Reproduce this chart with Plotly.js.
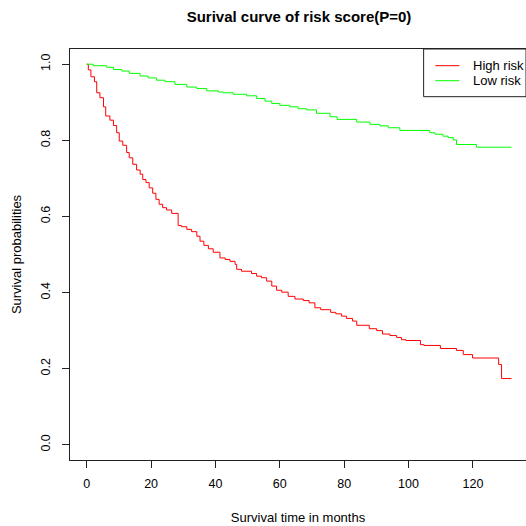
<!DOCTYPE html>
<html><head><meta charset="utf-8">
<script src="https://cdn.plot.ly/plotly-3.0.1.min.js"></script>
<style>html,body{margin:0;padding:0;background:#fff}#chart{width:526px;height:526px}</style>
</head><body><div id="chart"></div>
<script>
const seriesNames = ["High risk", "Low risk"];
const seriesColors = ["#FF0000", "#00FF00"];
const highTime = [0, 0.5, 1.3, 2.4, 3.1, 4.1, 5.2, 5.9, 7.2, 8.3, 9.3, 10.1, 11.2, 12.4, 13.2, 14.3, 15.5, 16.6, 17.4, 18.4, 19.4, 20.5, 21.5, 22.5, 23.6, 24.8, 26.4, 28.4, 29.5, 31.1, 32.6, 34.2, 35.2, 36.4, 37.8, 39.3, 41.4, 43.0, 44.5, 46.1, 46.6, 48.1, 51.2, 52.8, 54.3, 55.9, 57.5, 59.0, 60.6, 62.6, 64.7, 67.3, 69.1, 70.9, 72.7, 75.8, 77.4, 79.2, 80.7, 82.6, 83.9, 87.8, 90.1, 91.9, 94.2, 96.3, 97.8, 99.2, 103.7, 104.8, 109.9, 114.9, 117.0, 119.9, 128.0, 128.9, 132];
const highSurv = [1.0, 0.985, 0.967, 0.954, 0.925, 0.912, 0.888, 0.864, 0.853, 0.839, 0.820, 0.798, 0.787, 0.768, 0.754, 0.737, 0.722, 0.711, 0.697, 0.689, 0.675, 0.661, 0.645, 0.632, 0.623, 0.617, 0.608, 0.576, 0.573, 0.566, 0.560, 0.548, 0.535, 0.524, 0.515, 0.506, 0.491, 0.487, 0.482, 0.474, 0.461, 0.456, 0.450, 0.443, 0.439, 0.430, 0.417, 0.406, 0.401, 0.390, 0.383, 0.379, 0.373, 0.360, 0.355, 0.348, 0.344, 0.338, 0.332, 0.325, 0.314, 0.305, 0.300, 0.291, 0.287, 0.282, 0.276, 0.274, 0.263, 0.261, 0.253, 0.248, 0.237, 0.228, 0.211, 0.174, 0.174];
const lowTime = [0, 2.0, 6.2, 8.3, 10.9, 13.2, 16.6, 19.1, 21.7, 24.3, 27.4, 31.1, 34.2, 37.3, 40.9, 42.4, 45.5, 49.7, 52.8, 55.4, 57.5, 60.0, 63.1, 65.7, 68.3, 71.4, 75.6, 77.8, 83.9, 88.0, 91.1, 93.7, 97.3, 106.6, 108.2, 110.7, 112.3, 113.9, 114.9, 121.1, 132];
const lowSurv = [1.0, 0.996, 0.992, 0.986, 0.982, 0.976, 0.969, 0.964, 0.958, 0.954, 0.947, 0.940, 0.936, 0.930, 0.927, 0.925, 0.921, 0.917, 0.910, 0.903, 0.897, 0.892, 0.888, 0.883, 0.880, 0.871, 0.862, 0.855, 0.848, 0.842, 0.838, 0.833, 0.826, 0.820, 0.816, 0.811, 0.807, 0.801, 0.789, 0.782, 0.782];
const xTicks = [0, 20, 40, 60, 80, 100, 120];
const yTicks = [0.0, 0.2, 0.4, 0.6, 0.8, 1.0];

const font = "Liberation Sans, Arial, sans-serif";
const traces = [
  {x: highTime, y: highSurv, name: seriesNames[0], type: "scatter", mode: "lines", line: {shape: "hv", color: seriesColors[0], width: 1}},
  {x: lowTime, y: lowSurv, name: seriesNames[1], type: "scatter", mode: "lines", line: {shape: "hv", color: seriesColors[1], width: 1}}
];
const axisCommon = {showgrid: false, zeroline: false, showline: true, mirror: true, linecolor: "#222", linewidth: 1,
  ticks: "outside", ticklen: 7, tickcolor: "#222", tickfont: {family: font, size: 12.5, color: "#000"}};

// custom R-style legend (paper coordinates)
const legRows = [0.9594, 0.9229];
const shapes = [{type: "rect", xref: "paper", yref: "paper", x0: 0.7755, x1: 1.0, y0: 0.884, y1: 1.0, line: {color: "#222", width: 1}, fillcolor: "#fff", layer: "above"}];
const annotations = [];
seriesNames.forEach((n, i) => {
  shapes.push({type: "line", xref: "paper", yref: "paper", x0: 0.801, x1: 0.854, y0: legRows[i], y1: legRows[i], line: {color: seriesColors[i], width: 1}, layer: "above"});
  annotations.push({xref: "paper", yref: "paper", x: 0.8795, y: legRows[i], xanchor: "left", yanchor: "middle", text: n, showarrow: false, font: {family: font, size: 13, color: "#000"}});
});

const layout = {
  width: 526, height: 526,
  margin: {l: 70, r: 0, t: 49, b: 66},
  paper_bgcolor: "#fff", plot_bgcolor: "#fff",
  title: {text: "<b>Surival curve of risk score(P=0)</b>", font: {family: font, size: 15, color: "#000"}, x: 0.5684, xanchor: "center", y: 0.9677, yanchor: "middle"},
  xaxis: Object.assign({}, axisCommon, {range: [-5.2, 136.5], tickvals: xTicks, ticklabelstandoff: 5, title: {text: "Survival time in months", font: {family: font, size: 13, color: "#000"}, standoff: 22}}),
  yaxis: Object.assign({}, axisCommon, {range: [-0.04, 1.04], tickvals: yTicks, tickformat: ".1f", tickangle: -90, ticklabelstandoff: 7, title: {text: "Survival probabilities", font: {family: font, size: 13, color: "#000"}, standoff: 14}}),
  showlegend: false,
  shapes: shapes,
  annotations: annotations
};
Plotly.newPlot("chart", traces, layout, {displayModeBar: false, staticPlot: true});
</script></body></html>
